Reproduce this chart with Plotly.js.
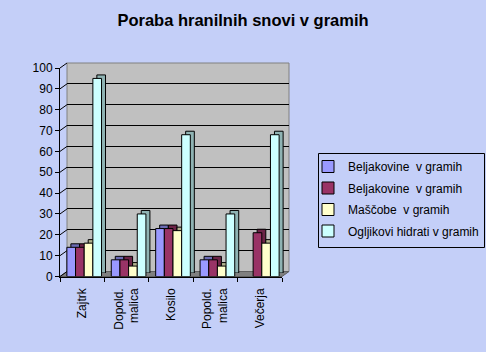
<!DOCTYPE html>
<html>
<head>
<meta charset="utf-8">
<script src="https://cdn.plot.ly/plotly-3.0.1.min.js"></script>
<style>html,body{margin:0;padding:0;background:#C4CFF8;}#chart{width:486px;height:352px;}</style>
</head>
<body>
<div id="chart"></div>
<script>
// ---- data ----
const categories = ["Zajtrk", "Dopold.<br>malica", "Kosilo", "Popold.<br>malica", "Večerja"];
const seriesNames = ["Beljakovine \u00a0v gramih", "Beljakovine \u00a0v gramih", "Maščobe \u00a0v gramih", "Ogljikovi hidrati v gramih"];
const beljakovine1 = [14, 8, 23, 8, null];
const beljakovine2 = [14, 8, 23, 8, 21];
const mascobe = [16, 5, 22, 5, 16];
const ogljikoviHidrati = [95, 30, 68, 30, 68];
const yTickValues = [0, 10, 20, 30, 40, 50, 60, 70, 80, 90, 100];

// ---- style ----
const frontColors = ["#9999FF", "#993366", "#FFFFCC", "#CCFFFF"];
const sideColors = ["#6B6BB3", "#6B2447", "#B3B38F", "#8FB3B3"];
const bg = "#C4CFF8";
const W = 486, H = 352;
const fx = p => p / W;
const fy = p => 1 - p / H;

// front plane (axes), wall (back), bar placement and depth
const FX0 = 60, FX1 = 282, FY0 = 276.5, FY1 = 68;
const WDX = 7, WDY = -5;
const BSX = 2;
const BDX = 4, BDY = -3.5;

const seriesValues = [beljakovine1, beljakovine2, mascobe, ogljikoviHidrati];
const traces = [];
// placeholders so the wall and the front axes subplots are created
traces.push({type: "scatter", mode: "markers", x: [], y: [], xaxis: "x", yaxis: "y", showlegend: false, hoverinfo: "skip"});
traces.push({type: "scatter", mode: "markers", x: [], y: [], xaxis: "x4", yaxis: "y4", showlegend: false, hoverinfo: "skip"});
seriesValues.forEach((vals, i) => {
  traces.push({
    type: "bar", x: categories, y: vals, xaxis: "x2", yaxis: "y2",
    marker: {color: sideColors[i], line: {color: "#000", width: 1}},
    showlegend: false, hoverinfo: "skip"
  });
});
seriesValues.forEach((vals, i) => {
  traces.push({
    type: "bar", x: categories, y: vals, xaxis: "x3", yaxis: "y3",
    name: seriesNames[i], legendgroup: "g" + i,
    marker: {color: frontColors[i], line: {color: "#000", width: 1}},
    hoverinfo: "skip"
  });
});

const fontFam = "Liberation Sans, Arial, sans-serif";
const wallY = v => (FY0 + WDY) - (v / 100) * (FY0 - FY1);
const frontY = v => FY0 - (v / 100) * (FY0 - FY1);

const shapes = [
  // back wall
  {type: "rect", xref: "x domain", yref: "y domain", x0: 0, x1: 1, y0: 0, y1: 1,
   fillcolor: "#C0C0C0", line: {color: "#808080", width: 1}, layer: "below"},
  // floor
  {type: "path", xref: "paper", yref: "paper",
   path: `M ${fx(FX0)},${fy(FY0)} L ${fx(FX1)},${fy(FY0)} L ${fx(FX1 + WDX)},${fy(FY0 + WDY)} L ${fx(FX0 + WDX)},${fy(FY0 + WDY)} Z`,
   fillcolor: "#808080", line: {color: "#606060", width: 1}, layer: "below"},
  // legend box
  {type: "rect", xref: "paper", yref: "paper", x0: fx(318.5), x1: fx(484.5), y0: fy(247.5), y1: fy(153.5),
   line: {color: "#000", width: 1}, fillcolor: "rgba(0,0,0,0)"}
];
yTickValues.forEach(v => {
  shapes.push({type: "line", xref: "paper", yref: "paper",
    x0: fx(FX0), y0: fy(frontY(v)), x1: fx(FX0 + WDX), y1: fy(wallY(v)),
    line: {color: "#000", width: 1}, layer: "below"});
});

const tickFont = {family: fontFam, size: 12, color: "#000"};
const layout = {
  width: W, height: H,
  margin: {l: 0, r: 0, t: 0, b: 0, pad: 0},
  paper_bgcolor: bg, plot_bgcolor: "rgba(0,0,0,0)",
  font: {family: fontFam, size: 12, color: "#000"},
  title: {text: "Poraba hranilnih snovi v gramih", x: 0.5, xanchor: "center", xref: "paper",
          y: fy(20), yanchor: "middle", yref: "container",
          font: {family: fontFam, size: 16.5, weight: "bold", color: "#000"}},
  barmode: "group", bargap: 0.22, bargroupgap: 0,
  showlegend: true,
  legend: {x: fx(308), y: fy(152), xanchor: "left", yanchor: "top",
           bgcolor: "rgba(0,0,0,0)", borderwidth: 0, tracegroupgap: 2.5,
           font: {family: fontFam, size: 12, color: "#000"}},
  // wall
  xaxis: {domain: [fx(FX0 + WDX), fx(FX1 + WDX)], anchor: "y", range: [0, 1],
          showgrid: false, zeroline: false, showticklabels: false, ticks: "", showline: false},
  yaxis: {domain: [fy(FY0 + WDY), fy(FY1 + WDY)], anchor: "x", range: [0, 100], dtick: 10,
          showgrid: true, gridcolor: "#000", gridwidth: 1, zeroline: false,
          showticklabels: false, ticks: "", showline: false},
  // bar depth
  xaxis2: {domain: [fx(FX0 + BSX + BDX), fx(FX1 + BSX + BDX)], anchor: "y2", type: "category",
           range: [-0.5, 4.5], visible: false},
  yaxis2: {domain: [fy(FY0 + BDY), fy(FY1 + BDY)], anchor: "x2", range: [0, 100], visible: false},
  // bar fronts
  xaxis3: {domain: [fx(FX0 + BSX), fx(FX1 + BSX)], anchor: "y3", type: "category",
           range: [-0.5, 4.5], visible: false},
  yaxis3: {domain: [fy(FY0), fy(FY1)], anchor: "x3", range: [0, 100], visible: false},
  // front axes
  xaxis4: {domain: [fx(FX0), fx(FX1)], anchor: "y4", type: "category", range: [-0.5, 4.5],
           categoryarray: categories, categoryorder: "array", tickvals: categories,
           showline: true, linecolor: "#000", linewidth: 1, ticks: "outside", tickson: "boundaries",
           ticklen: 4, tickcolor: "#000", tickangle: -90, ticklabelstandoff: 6,
           showgrid: false, zeroline: false, tickfont: tickFont},
  yaxis4: {domain: [fy(FY0), fy(FY1)], anchor: "x4", range: [0, 100], tickvals: yTickValues,
           showline: true, linecolor: "#000", linewidth: 1, ticks: "outside", ticklen: 4, tickcolor: "#000",
           showgrid: false, zeroline: false, tickfont: tickFont},
  shapes: shapes
};

Plotly.newPlot("chart", traces, layout, {staticPlot: true, displayModeBar: false});
</script>
</body>
</html>
